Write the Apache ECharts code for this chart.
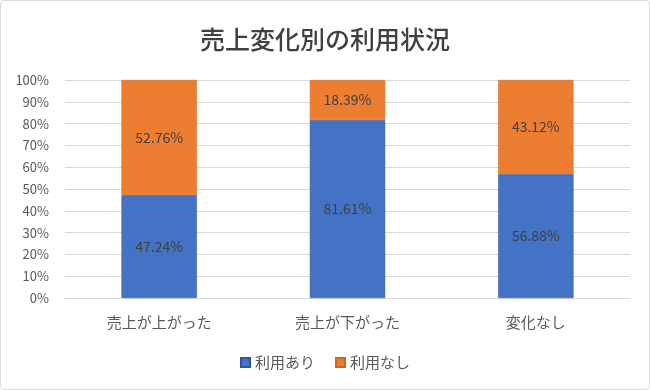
<!DOCTYPE html>
<html><head><meta charset="utf-8">
<script src="https://cdn.jsdelivr.net/npm/echarts@6/dist/echarts.min.js"></script>
<style>html,body{margin:0;padding:0;background:#fff}#c{width:650px;height:390px;box-sizing:border-box;border:1px solid #d9d9d9;border-radius:4px}</style>
</head><body><div id="c"></div>
<script>
const categories = ['売上が上がった', '売上が下がった', '変化なし'];
const usedValues = [47.24, 81.61, 56.88];
const unusedValues = [52.76, 18.39, 43.12];
const seriesNames = ['利用あり', '利用なし'];
const FONT = '"Noto Sans CJK JP", "Noto Sans", sans-serif';
const chart = echarts.init(document.getElementById('c'));
const lbl = {show: true, position: 'inside', color: '#404040', fontSize: 14, fontFamily: FONT, formatter: p => p.value.toFixed(2) + '%'};
chart.setOption({
  animation: false,
  title: {text: '売上変化別の利用状況', left: 'center', top: 21, textStyle: {fontFamily: FONT, fontSize: 25, fontWeight: 500, color: '#404040'}},
  legend: {bottom: 14, itemWidth: 9, itemHeight: 9, itemGap: 20, icon: 'rect', textStyle: {fontFamily: FONT, fontSize: 15, color: '#595959'}, data: seriesNames},
  grid: {left: 64, right: 19, top: 79, bottom: 91},
  xAxis: {type: 'category', data: categories, axisTick: {show: false}, axisLine: {lineStyle: {color: '#d9d9d9'}}, axisLabel: {fontFamily: FONT, fontSize: 15, color: '#595959', margin: 17}},
  yAxis: {type: 'value', min: 0, max: 100, interval: 10, axisLabel: {formatter: v => v + '%', fontFamily: FONT, fontSize: 13, color: '#595959', margin: 16}, splitLine: {lineStyle: {color: '#d9d9d9'}}, axisLine: {show: false}},
  series: [
    {name: seriesNames[0], type: 'bar', stack: 's', data: usedValues, barWidth: '40%', itemStyle: {color: '#4472C4', borderColor: '#2F5597', borderWidth: 0.5}, label: lbl},
    {name: seriesNames[1], type: 'bar', stack: 's', data: unusedValues, barWidth: '40%', itemStyle: {color: '#ED7D31', borderColor: '#D0651C', borderWidth: 0.5}, label: lbl}
  ]
});
</script></body></html>
